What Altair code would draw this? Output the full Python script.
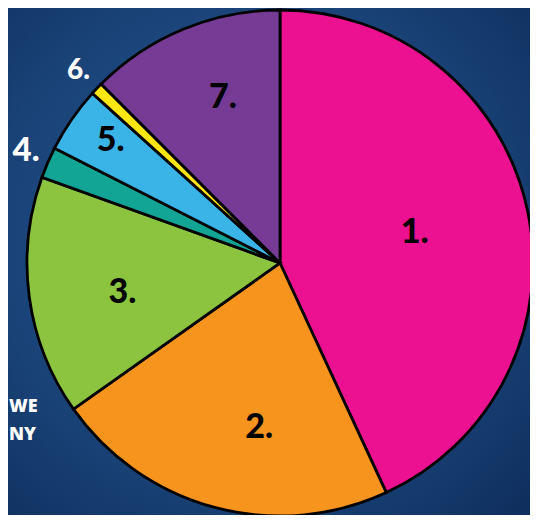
import altair as alt
import pandas as pd

labels = ["1.", "2.", "3.", "4.", "5.", "6.", "7."]
values = [43.1, 22.1, 15.3, 2.0, 4.2, 0.8, 12.5]
colors = ["#EC1190", "#F7941E", "#8CC43F", "#12A595", "#3AB3E6", "#FFE512", "#763B95"]
side_text = ["WE", "NY"]

df = pd.DataFrame({"label": labels, "value": values, "idx": list(range(len(labels)))})

W, H = 522, 507
CX, CY, R = 272, 255, 253

base = alt.Chart(df)

bg = alt.Chart(alt.Data(values=[{}])).mark_rect(
    color=alt.Gradient(
        gradient="radial",
        stops=[alt.GradientStop(color="#23538C", offset=0),
               alt.GradientStop(color="#1A4479", offset=0.6),
               alt.GradientStop(color="#0F2F5E", offset=1)],
        x1=0.45, y1=0.45, r1=0, x2=0.45, y2=0.45, r2=0.75,
    )
).encode(x=alt.value(0), x2=alt.value(W), y=alt.value(0), y2=alt.value(H))

pie = base.mark_arc(radius=R, stroke="#000000", strokeWidth=2.8).encode(
    theta=alt.Theta("value:Q", stack=True),
    color=alt.Color("label:N", scale=alt.Scale(domain=labels, range=colors), legend=None),
    order=alt.Order("idx:Q"),
    x=alt.value(CX),
    y=alt.value(CY),
)

# label style per slice: (radius, color, size, dx, dy)
label_style = {
    "1.": (138, "#000000", 34, 0, 0),
    "2.": (166, "#000000", 34, 22, 5),
    "3.": (161, "#000000", 34, 2, 8),
    "4.": (281, "#FFFFFF", 33, 4, 0),
    "5.": (208, "#000000", 34, 2, -4),
    "6.": (278, "#FFFFFF", 28, 0, 0),
    "7.": (175, "#000000", 34, 10, -3),
}

text_layers = []
for lab, (rad, col, size, dx, dy) in label_style.items():
    t = base.transform_calculate(
        t=f"datum.label == '{lab}' ? datum.label : ''"
    ).mark_text(
        radius=rad, color=col, fontSize=size, font="Lato", fontWeight=900,
        align="center", baseline="middle", dx=dx, dy=dy,
    ).encode(
        theta=alt.Theta("value:Q", stack=True),
        order=alt.Order("idx:Q"),
        detail="label:N",
        text="t:N",
        x=alt.value(CX),
        y=alt.value(CY),
    )
    text_layers.append(t)

side_df = pd.DataFrame({"s": side_text, "i": [0, 1]})
side1 = alt.Chart(side_df).transform_filter("datum.i == 0").mark_text(
    color="#FFFFFF", fontSize=18, font="Open Sans", fontWeight=900,
    align="left", baseline="middle",
).encode(text="s:N", x=alt.value(1), y=alt.value(399))
side2 = alt.Chart(side_df).transform_filter("datum.i == 1").mark_text(
    color="#FFFFFF", fontSize=18, font="Open Sans", fontWeight=900,
    align="left", baseline="middle",
).encode(text="s:N", x=alt.value(1), y=alt.value(427))

chart = alt.layer(bg, pie, *text_layers, side1, side2).properties(
    width=W, height=H, padding=0, autosize=alt.AutoSizeParams(type="none"),
    background="#1A4479",
).configure_view(strokeWidth=0)

chart.save("out.html", embed_options={"renderer": "svg", "actions": False})
